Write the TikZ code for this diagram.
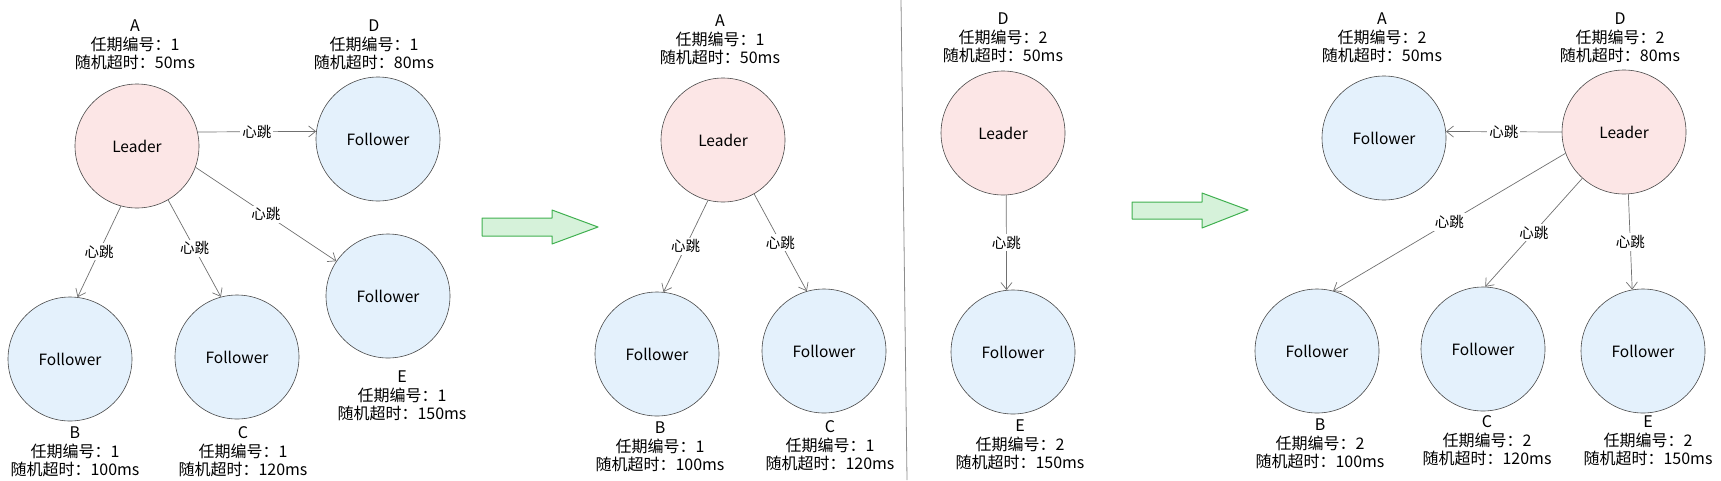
\documentclass[tikz,border=0pt]{standalone}
\usepackage{fontspec}
\setmainfont{Noto Sans CJK SC}
\usetikzlibrary{arrows.meta}
\definecolor{leaderfill}{HTML}{FCE6E6}
\definecolor{followerfill}{HTML}{E4F1FC}
\definecolor{nodeline}{HTML}{4A4A4A}
\definecolor{edgeline}{HTML}{707070}
\definecolor{greenline}{HTML}{40B050}
\definecolor{greenfill}{HTML}{D6F2DA}
\tikzset{
  leader/.style={circle, draw=nodeline, line width=0.6pt, fill=leaderfill, minimum size=124pt, inner sep=0pt, font=\fontsize{15.5}{18}\selectfont},
  follower/.style={circle, draw=nodeline, line width=0.6pt, fill=followerfill, minimum size=124pt, inner sep=0pt, font=\fontsize{15.5}{18}\selectfont},
  info/.style={align=center, inner sep=0pt, font=\fontsize{16}{18.5}\selectfont},
  beat/.style={draw=edgeline, line width=0.7pt, -{Straight Barb[length=7pt,width=11pt,line width=0.7pt]}},
  beatlabel/.style={fill=white, inner sep=2pt, font=\fontsize{14.5}{16}\selectfont},
  bigarrow/.style={draw=greenline, line width=1pt, fill=greenfill, line join=round},
  divider/.style={draw=black!45, line width=0.8pt}
}
\begin{document}
\begin{tikzpicture}[x=1pt,y=-1pt]
\useasboundingbox (0,0) rectangle (1721,480);

% ---------- Panel 1 ----------
\node[leader]   (p1A) at (137,146) {Leader};
\node[follower] (p1D) at (378,139) {Follower};
\node[follower] (p1B) at (70,359)  {Follower};
\node[follower] (p1C) at (237,357) {Follower};
\node[follower] (p1E) at (388,296) {Follower};
\node[info] (i1A) at (135,45)  {A\\任期编号：1\\随机超时：50ms};
\node[info] (i1D) at (374,45)  {D\\任期编号：1\\随机超时：80ms};
\node[info] (i1B) at (75,452)  {B\\任期编号：1\\随机超时：100ms};
\node[info] (i1C) at (243,452) {C\\任期编号：1\\随机超时：120ms};
\node[info] (i1E) at (402,396) {E\\任期编号：1\\随机超时：150ms};
\draw[beat] (p1A.13)  -- node[beatlabel] {心跳} (p1D.173);
\draw[beat] (p1A.255) -- node[beatlabel] {心跳} (p1B.83);
\draw[beat] (p1A.300) -- node[beatlabel] {心跳} (p1C.105);
\draw[beat] (p1A.340) -- node[beatlabel] {心跳} (p1E.146);

\draw[bigarrow] (482,218) -- (552,218) -- (552,210) -- (598,227) -- (552,244) -- (552,236) -- (482,236) -- cycle;

% ---------- Panel 2 ----------
\node[leader]   (p2A) at (723,140) {Leader};
\node[follower] (p2B) at (657,354) {Follower};
\node[follower] (p2C) at (824,351) {Follower};
\node[info] (i2A) at (720,40)  {A\\任期编号：1\\随机超时：50ms};
\node[info] (i2B) at (660,447) {B\\任期编号：1\\随机超时：100ms};
\node[info] (i2C) at (830,446) {C\\任期编号：1\\随机超时：120ms};
\draw[beat] (p2A.256) -- node[beatlabel] {心跳} (p2B.84);
\draw[beat] (p2A.300) -- node[beatlabel] {心跳} (p2C.106);

\coordinate (divtop) at (901,0);
\coordinate (divbot) at (907,480);
\draw[divider] (divtop) -- (divbot);

% ---------- Panel 3 ----------
\node[leader]   (p3D) at (1003,133) {Leader};
\node[follower] (p3E) at (1013,352) {Follower};
\node[info] (i3D) at (1003,38)  {D\\任期编号：2\\随机超时：50ms};
\node[info] (i3E) at (1020,445) {E\\任期编号：2\\随机超时：150ms};
\draw[beat] (p3D.273) -- node[beatlabel] {心跳} (p3E.96);

\draw[bigarrow] (1132,202) -- (1202,202) -- (1202,193) -- (1248,210) -- (1202,228) -- (1202,219) -- (1132,219) -- cycle;

% ---------- Panel 4 ----------
\node[follower] (p4A) at (1384,138) {Follower};
\node[leader]   (p4D) at (1624,132) {Leader};
\node[follower] (p4B) at (1317,351) {Follower};
\node[follower] (p4C) at (1483,349) {Follower};
\node[follower] (p4E) at (1643,351) {Follower};
\node[info] (i4A) at (1382,38)  {A\\任期编号：2\\随机超时：50ms};
\node[info] (i4D) at (1620,38)  {D\\任期编号：2\\随机超时：80ms};
\node[info] (i4B) at (1320,444) {B\\任期编号：2\\随机超时：100ms};
\node[info] (i4C) at (1487,441) {C\\任期编号：2\\随机超时：120ms};
\node[info] (i4E) at (1648,441) {E\\任期编号：2\\随机超时：150ms};
\draw[beat] (p4D.180)   -- node[beatlabel] {心跳} (p4A.6);
\draw[beat] (p4D.200.6) -- node[beatlabel] {心跳} (p4B.75);
\draw[beat] (p4D.228.8) -- node[beatlabel] {心跳} (p4C.88);
\draw[beat] (p4D.274)   -- node[beatlabel] {心跳} (p4E.100);
\end{tikzpicture}
\end{document}
